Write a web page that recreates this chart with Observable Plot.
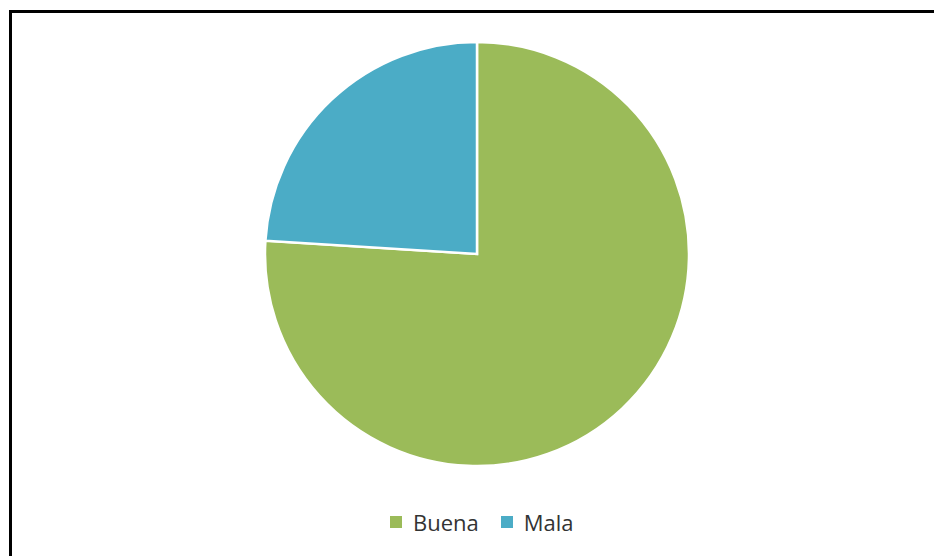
<!DOCTYPE html>
<html>
<head>
<meta charset="utf-8">
<script src="https://cdn.jsdelivr.net/npm/d3@7"></script>
<script src="https://cdn.jsdelivr.net/npm/@observablehq/plot@0.6"></script>
<style>
  html, body { margin: 0; padding: 0; background: #fff; }
  #wrap { position: relative; width: 934px; height: 556px; overflow: hidden; font-family: "Open Sans", sans-serif; }
  #frame { position: absolute; left: 9px; top: 10px; width: 960px; height: 600px; border-left: 3px solid #000; border-top: 3px solid #000; box-sizing: border-box; }
  #chart { position: absolute; left: 0; top: 0; }
  #legend { position: absolute; left: 390px; top: 505px; }
</style>
</head>
<body>
<div id="wrap">
  <div id="frame"></div>
  <div id="chart"></div>
  <div id="legend"></div>
</div>
<script>
const categories = ["Buena", "Mala"];
const values = [76, 24];
const colors = ["#9BBB59", "#4BACC6"];

const data = categories.map((c, i) => ({category: c, value: values[i]}));
const pie = d3.pie().value(d => d.value)(data);

const cx = 477, cy = 254, radius = 212;

const pieMark = Plot.dot(pie, {
  x: () => 0,
  y: () => 0,
  fill: d => d.data.category,
  render(index, scales, channels, dimensions, context) {
    const arc = d3.arc().innerRadius(0).outerRadius(radius);
    const g = d3.create("svg:g").attr("transform", `translate(${cx},${cy})`);
    g.selectAll("path")
      .data(Array.from(index, i => pie[i]))
      .join("path")
      .attr("d", arc)
      .attr("fill", d => scales.color(d.data.category))
      .attr("stroke", "#fff")
      .attr("stroke-width", 2.5)
      .attr("stroke-linejoin", "miter");
    return g.node();
  }
});

const chart = Plot.plot({
  width: 934,
  height: 500,
  margin: 0,
  x: {axis: null},
  y: {axis: null},
  color: {domain: categories, range: colors},
  style: {background: "transparent"},
  marks: [pieMark]
});
document.getElementById("chart").append(chart);

const legend = Plot.legend({
  color: {domain: categories, range: colors},
  legend: "swatches",
  swatchSize: 12,
  style: {fontFamily: "Open Sans, sans-serif", fontSize: "22px", color: "#333"}
});
document.getElementById("legend").append(legend);
</script>
</body>
</html>
